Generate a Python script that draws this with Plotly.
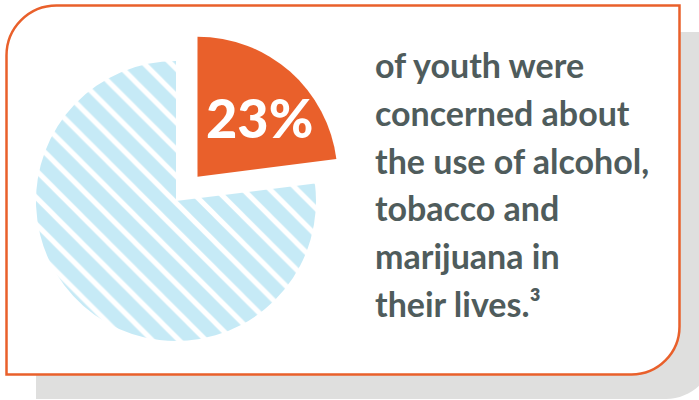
import plotly.graph_objects as go

# ---- data ----
slice_labels = ["Concerned", "Not concerned"]
slice_values = [23, 77]
slice_pull = [0.232, 0]
statement_lines = [
    "of youth were",
    "concerned about",
    "the use of alcohol,",
    "tobacco and",
    "marijuana in",
    "their lives.³",
]

# ---- styling ----
W, H = 699, 400
ORANGE = "#E9602B"
BLUE = "#C6EAF6"
GRAY_TEXT = "#4F5C5C"
SHADOW = "#DFDFDE"


def px(x):
    return x / W


def py(y):
    return 1 - y / H


def rrect(x0, y0, x1, y1, r_tl, r_tr, r_br, r_bl):
    k = 0.5523
    def P(x, y):
        return f"{px(x):.5f},{py(y):.5f}"
    d = f"M{P(x0 + r_tl, y0)} L{P(x1 - r_tr, y0)} "
    d += f"C{P(x1 - r_tr + k * r_tr, y0)} {P(x1, y0 + r_tr - k * r_tr)} {P(x1, y0 + r_tr)} "
    d += f"L{P(x1, y1 - r_br)} "
    d += f"C{P(x1, y1 - r_br + k * r_br)} {P(x1 - r_br + k * r_br, y1)} {P(x1 - r_br, y1)} "
    d += f"L{P(x0 + r_bl, y1)} "
    d += f"C{P(x0 + r_bl - k * r_bl, y1)} {P(x0, y1 - r_bl + k * r_bl)} {P(x0, y1 - r_bl)} "
    d += f"L{P(x0, y0 + r_tl)} "
    d += f"C{P(x0, y0 + r_tl - k * r_tl)} {P(x0 + r_tl - k * r_tl, y0)} {P(x0 + r_tl, y0)} Z"
    return d


# pie geometry (pixel centre of the un-pulled pie and its radius)
cx, cy, r = 176, 201, 140
half = r * (1 + max(slice_pull))

fig = go.Figure()
fig.add_trace(go.Pie(
    labels=slice_labels,
    values=slice_values,
    pull=slice_pull,
    sort=False,
    direction="clockwise",
    rotation=0,
    textinfo="none",
    hoverinfo="label+percent",
    showlegend=False,
    marker=dict(
        colors=[ORANGE, BLUE],
        line=dict(width=0),
        pattern=dict(shape=["", "\\"], fgcolor="white", bgcolor=[ORANGE, BLUE],
                     size=19, solidity=0.27),
    ),
    domain=dict(x=[px(cx - half), px(cx + half)], y=[py(cy + half), py(cy - half)]),
))

shapes = [
    dict(type="path", xref="paper", yref="paper", layer="below",
         path=rrect(36, 32, 714, 399, 0, 0, 48, 0),
         fillcolor=SHADOW, line=dict(width=0)),
    dict(type="path", xref="paper", yref="paper", layer="below",
         path=rrect(6.5, 5.5, 679.5, 374.5, 50, 0, 48, 0),
         fillcolor="white", line=dict(color=ORANGE, width=2.5)),
]

annotations = [
    dict(text=f"{slice_values[0]}%", x=px(259), y=py(117), xref="paper", yref="paper",
         xanchor="center", yanchor="middle", showarrow=False,
         font=dict(family="Lato", size=54, color="white", weight=900)),
]
base0, step = 77, 47.6
for i, line in enumerate(statement_lines):
    baseline = base0 + i * step
    annotations.append(dict(
        text=line, x=px(373), y=py(baseline - 12), xref="paper", yref="paper",
        xanchor="left", yanchor="middle", showarrow=False,
        font=dict(family="Lato", size=34, color=GRAY_TEXT, weight="bold"),
    ))

fig.update_layout(
    width=W, height=H,
    margin=dict(l=0, r=0, t=0, b=0),
    paper_bgcolor="white",
    plot_bgcolor="white",
    shapes=shapes,
    annotations=annotations,
)

fig.write_html(
    "out.html",
    config={"displayModeBar": False},
    post_script="document.body.style.margin='0';document.body.style.overflow='hidden';",
)
